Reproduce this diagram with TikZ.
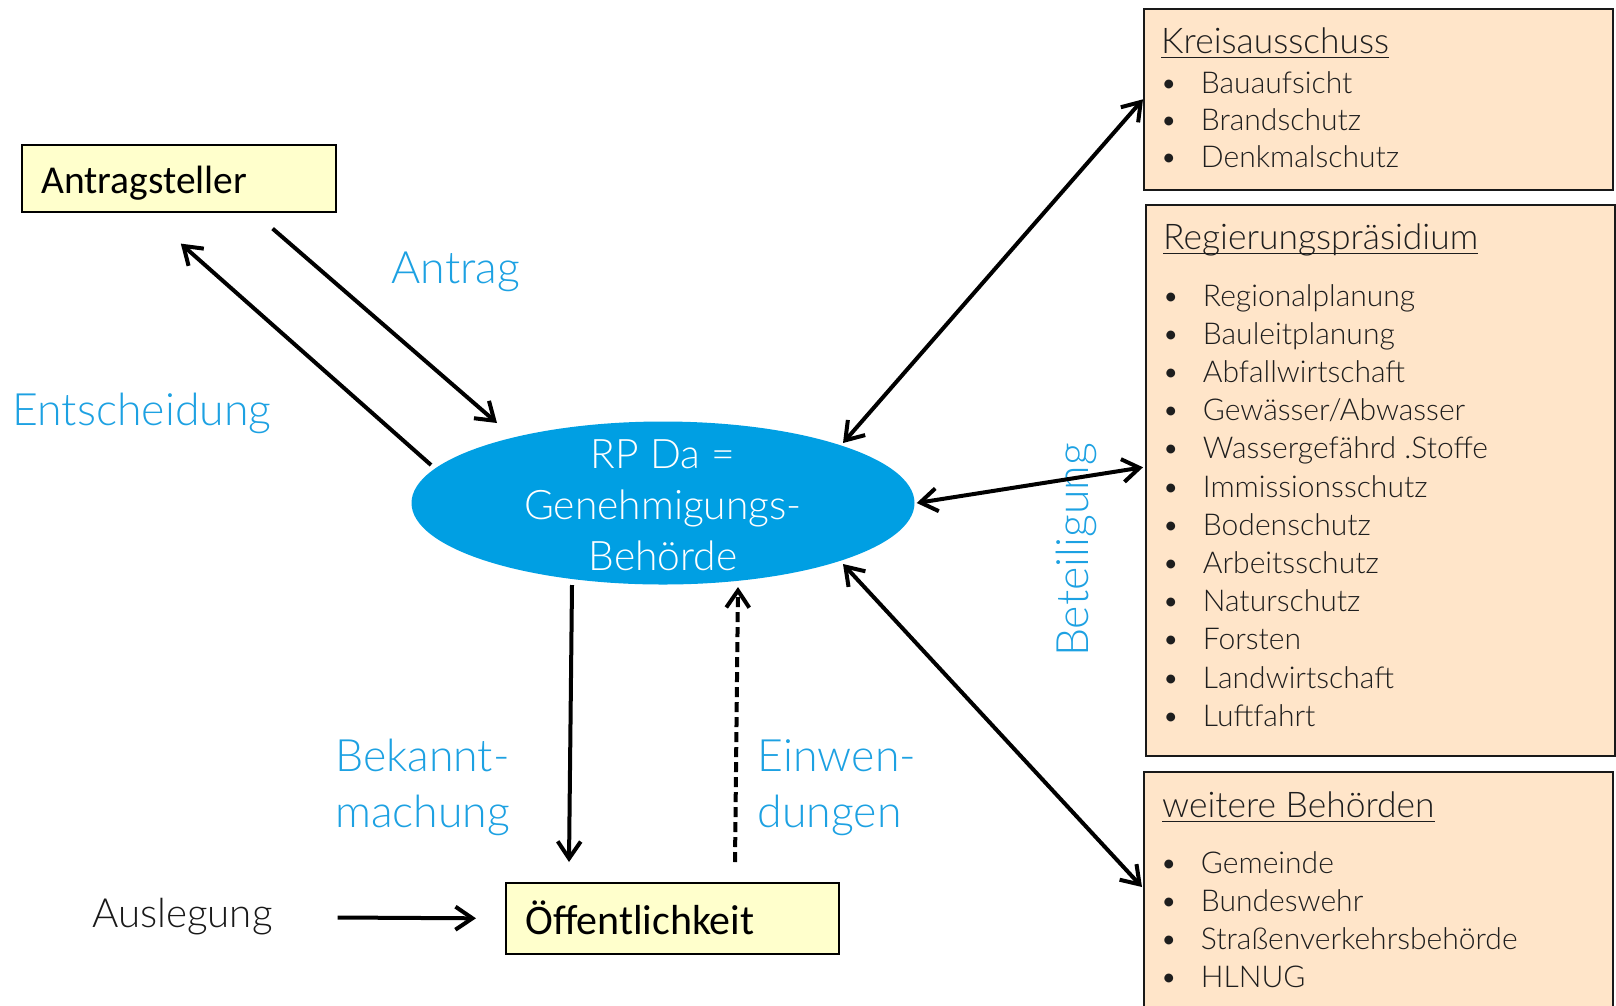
\documentclass[tikz,border=0pt]{standalone}
\usepackage{fontspec}
\setmainfont{Carlito}
\IfFontExistsTF{Lato-Light.ttf}{\newfontfamily\lt[Scale=0.97]{Lato-Light.ttf}}{\newfontfamily\lt{Carlito}}
\usetikzlibrary{arrows.meta,shapes.geometric,calc}
\definecolor{rpblue}{RGB}{0,159,227}
\definecolor{lblblue}{RGB}{29,161,226}
\definecolor{lightyellow}{RGB}{255,255,204}
\definecolor{peach}{RGB}{255,229,201}
\definecolor{txtgray}{RGB}{30,30,30}
\begin{document}
\begin{tikzpicture}[x=1pt,y=-1pt,
  tip/.tip={Straight Barb[length=17pt,width=23pt]},
  conn/.style={line width=4pt, -tip},
  dconn/.style={line width=4pt, tip-tip},
  ybox/.style={draw=black, line width=1.6pt, fill=lightyellow, inner sep=0pt, anchor=north west},
  obox/.style={draw=black!90, line width=1.6pt, fill=peach, inner sep=0pt, anchor=north west},
  lbl/.style={text=lblblue, font=\lt\fontsize{46}{57}\selectfont, inner sep=0pt, anchor=base west},
  itm/.style={text=txtgray, font=\lt\fontsize{31}{38}\selectfont, inner sep=0pt, anchor=base west},
  ttl/.style={text=txtgray, font=\lt\fontsize{36.5}{44}\selectfont, inner sep=0pt, anchor=base west},
  uline/.style={draw=txtgray, line width=1.6pt},
]
\useasboundingbox (0,0) rectangle (1616,1005);

% boxes
\node[ybox, minimum width=314pt, minimum height=67pt] (ant) at (21,144) {};
\node[text=black, font=\fontsize{39.5}{46}\selectfont, inner sep=0pt, anchor=base west] (antt) at (41,193) {Antragsteller};

\node[ybox, minimum width=333pt, minimum height=71pt] (oef) at (505,882) {};
\node[text=black, font=\fontsize{42}{49}\selectfont, inner sep=0pt, anchor=base west] (oeft) at (525,934) {Öffentlichkeit};

\node[text=black!90, font=\lt\fontsize{41.5}{50}\selectfont, inner sep=0pt, anchor=base west] (ausl) at (92,927.5) {Auslegung};

\node[obox, minimum width=469pt, minimum height=181pt] (kreis) at (1143,8) {};
\node[obox, minimum width=469pt, minimum height=551pt] (reg) at (1145,204) {};
\node[obox, minimum width=469pt, minimum height=260pt] (wei) at (1143,771) {};

% ellipse
\node[ellipse, fill=rpblue, minimum width=503pt, minimum height=163pt, inner sep=0pt] (rp) at (663,503) {};
\node[text=white, font=\lt\fontsize{42}{51}\selectfont, align=center, inner sep=0pt] (rpt) at (663,505) {RP Da =\\Genehmigungs-\\Behörde};

% titles
\node[ttl] (kt) at (1161,53) {Kreisausschuss};
\draw[uline] ([yshift=-4.5pt]kt.base west) -- ([yshift=-4.5pt]kt.base east);
\node[ttl] (rt) at (1163,249) {Regierungspräsidium};
\draw[uline] ([yshift=-4.5pt]rt.base west) -- ([yshift=-4.5pt]rt.base east);
\node[ttl] (wt) at (1162,817) {weitere Behörden};
\draw[uline] ([yshift=-4.5pt]wt.base west) -- ([yshift=-4.5pt]wt.base east);

% items
\foreach \t [count=\i from 0] in {Bauaufsicht,Brandschutz,Denkmalschutz}
  \node[itm] (ki\i) at (1160,93.3+37.2*\i) {\makebox[40.7pt][l]{\textbullet}\t};
\foreach \t [count=\i from 0] in {Regionalplanung,Bauleitplanung,Abfallwirtschaft,Gewässer/Abwasser,Wassergefährd .Stoffe,Immissionsschutz,Bodenschutz,Arbeitsschutz,Naturschutz,Forsten,Landwirtschaft,Luftfahrt}
  \node[itm] (ri\i) at (1162,306+38.2*\i) {\makebox[40.7pt][l]{\textbullet}\t};
\foreach \t [count=\i from 0] in {Gemeinde,Bundeswehr,Straßenverkehrsbehörde,HLNUG}
  \node[itm] (wi\i) at (1160,873+38.2*\i) {\makebox[40.7pt][l]{\textbullet}\t};

% labels
\node[lbl] (lant) at (391.6,283) {Antrag};
\node[lbl] (lent) at (12.4,425.6) {Entscheidung};
\node[lbl] (lbek1) at (335,771) {Bekannt-};
\node[lbl] (lbek2) at (335,827.5) {machung};
\node[lbl] (lein1) at (757.5,771) {Einwen-};
\node[lbl] (lein2) at (757.5,827.5) {dungen};
\node[lbl, rotate=90, anchor=base] (lbet) at (1088,550) {Beteiligung};

% connectors
\draw[conn] ($(ant.south east)+(-64,16)$) -- ($(rp.center)+(-166,-80)$);
\draw[conn] ($(rp.center)+(-232,-38)$) -- ($(ant.south)+(2,31)$);
\draw[dconn] ($(rp.center)+(180,-60)$) -- (kreis.west);
\draw[dconn] ($(rp.east)+(2,0)$) -- ($(reg.west)+(-2,-13)$);
\draw[dconn] ($(rp.center)+(180,61)$) -- ($(wei.north west)+(-1,116)$);
\draw[conn] ($(rp.center)+(-91,82)$) -- ($(oef.north west)+(64,-20)$);
\draw[conn, dash pattern=on 10pt off 5pt] ($(oef.north west)+(230,-20)$) -- ($(rp.center)+(75,84)$);
\draw[conn] ($(ausl.base east)+(65,-10)$) -- ($(oef.west)+(-29,0)$);
\end{tikzpicture}
\end{document}
